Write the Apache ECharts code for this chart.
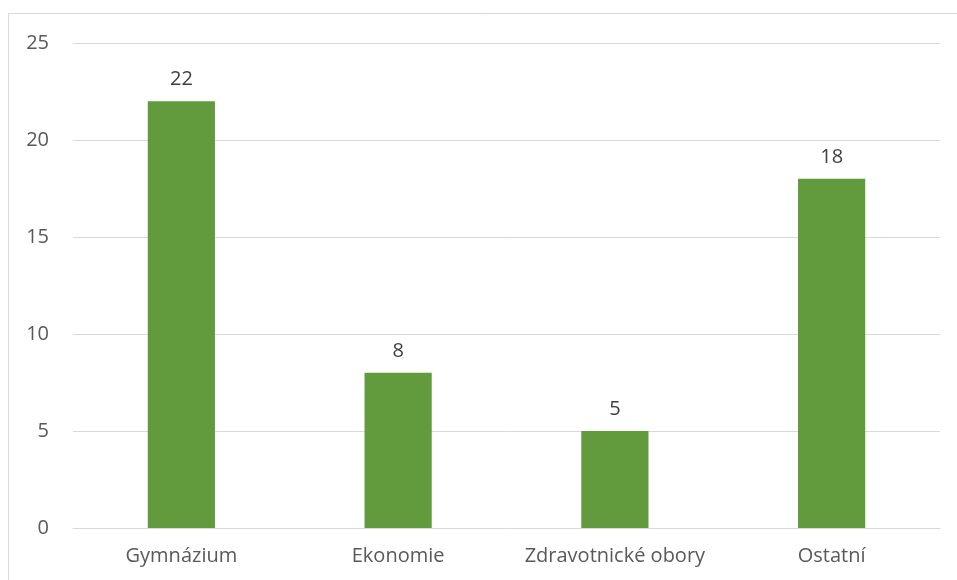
<!DOCTYPE html>
<html>
<head>
<meta charset="utf-8">
<script src="https://cdn.jsdelivr.net/npm/echarts@6/dist/echarts.min.js"></script>
<style>
  html, body { margin: 0; padding: 0; background: #fff; }
  #chart { width: 957px; height: 580px; }
</style>
</head>
<body>
<div id="chart"></div>
<script>
const categories = ['Gymnázium', 'Ekonomie', 'Zdravotnické obory', 'Ostatní'];
const counts = [22, 8, 5, 18];
const yTicks = [0, 5, 10, 15, 20, 25];

const chart = echarts.init(document.getElementById('chart'), null, { renderer: 'canvas' });
const font = '"Open Sans", "Noto Sans", sans-serif';

chart.setOption({
  animation: false,
  backgroundColor: '#ffffff',
  graphic: [{
    type: 'rect',
    shape: { x: 8.5, y: 13.5, width: 1200, height: 1000 },
    style: { fill: 'none', stroke: '#d9d9d9', lineWidth: 1 },
    silent: true
  }],
  grid: { left: 73, right: 17, top: 43, bottom: 52, containLabel: false },
  xAxis: {
    type: 'category',
    data: categories,
    axisLine: { show: true, lineStyle: { color: '#d9d9d9', width: 1 } },
    axisTick: { show: false },
    axisLabel: {
      color: '#595959', fontSize: 20, fontFamily: font, margin: 18,
      interval: 0, hideOverlap: false
    }
  },
  yAxis: {
    type: 'value',
    min: yTicks[0],
    max: yTicks[yTicks.length - 1],
    interval: 5,
    axisLine: { show: false },
    axisTick: { show: false },
    splitLine: { lineStyle: { color: '#d9d9d9', width: 1 } },
    axisLabel: { color: '#595959', fontSize: 20, fontFamily: font, margin: 24 }
  },
  series: [{
    type: 'bar',
    data: counts,
    barWidth: '31%',
    itemStyle: { color: '#629b3e' },
    label: {
      show: true,
      position: 'top',
      distance: 12,
      color: '#404040',
      fontSize: 20,
      fontFamily: font
    }
  }]
});
</script>
</body>
</html>
